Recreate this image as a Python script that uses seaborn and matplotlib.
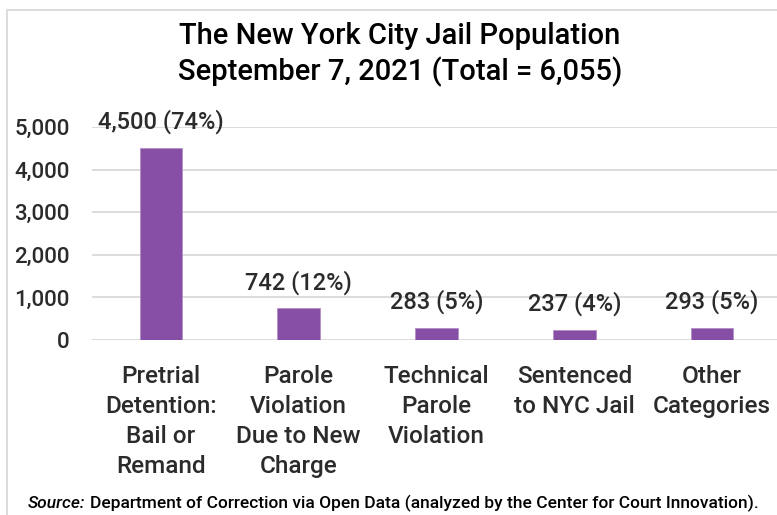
import matplotlib
matplotlib.use("Agg")
import matplotlib.pyplot as plt
import seaborn as sns
import pandas as pd
from matplotlib.patches import Rectangle

# data
categories = ["Pretrial\nDetention:\nBail or\nRemand",
              "Parole\nViolation\nDue to New\nCharge",
              "Technical\nParole\nViolation",
              "Sentenced\nto NYC Jail",
              "Other\nCategories"]
counts = [4500, 742, 283, 237, 293]
shares = [74, 12, 5, 4, 5]
yticks = [0, 1000, 2000, 3000, 4000, 5000]

df = pd.DataFrame({"cat": categories, "n": counts})

sns.set_style("white")
plt.rcParams["font.family"] = ["Roboto", "DejaVu Sans"]
plt.rcParams["font.weight"] = 500

fig = plt.figure(figsize=(7.77, 5.15), dpi=100)
ax = fig.add_axes([92 / 777, 175 / 515, 689 / 777, 213 / 515])

sns.barplot(data=df, x="cat", y="n", color="#874ea6", saturation=1,
            width=0.31, edgecolor="#b48cc8", linewidth=0.6, ax=ax, zorder=3)

ax.set_xlim(-0.5, 4.5)
ax.set_ylim(0, 5000)
ax.set_yticks(yticks)
ax.set_yticklabels([f"{v:,}" for v in yticks])
ax.yaxis.grid(True, color="#d9d9d9", linewidth=1.3, zorder=0)
ax.set_axisbelow(True)
for s in ax.spines.values():
    s.set_visible(False)
ax.tick_params(axis="y", length=0, pad=16, labelsize=16, labelcolor="#2b2b2b")
ax.tick_params(axis="x", length=0, pad=18, labelsize=17.5, labelcolor="#2b2b2b")
for lab in ax.get_xticklabels():
    lab.set_linespacing(1.38)
ax.set_xlabel("")
ax.set_ylabel("")

# value labels above bars
for i, (n, p) in enumerate(zip(counts, shares)):
    ax.annotate(f"{n:,} ({p}%)", xy=(i, n), xytext=(0, 10),
                textcoords="offset points", ha="center", va="bottom",
                fontsize=17, color="#2b2b2b")

fig.text(400 / 777, 1 - 36 / 515, "The New York City Jail Population",
         ha="center", va="center", fontsize=21, color="black")
fig.text(400 / 777, 1 - 72 / 515, "September 7, 2021 (Total = 6,055)",
         ha="center", va="center", fontsize=21, color="black")

fig.text(28 / 777, 1 - 508 / 515, "Source:", ha="left", va="baseline",
         fontsize=12.5, style="italic", color="black")
fig.text(90 / 777, 1 - 508 / 515,
         "Department of Correction via Open Data (analyzed by the Center for Court Innovation).",
         ha="left", va="baseline", fontsize=12.5, color="black")

# chart frame (cut off on right and bottom)
fig.patches.append(Rectangle((7 / 777, -0.1), 1.2, 1 - 10 / 515 + 0.1,
                             transform=fig.transFigure, fill=False,
                             edgecolor="#d9d9d9", linewidth=1.3))

fig.savefig("out.png", dpi=100)
